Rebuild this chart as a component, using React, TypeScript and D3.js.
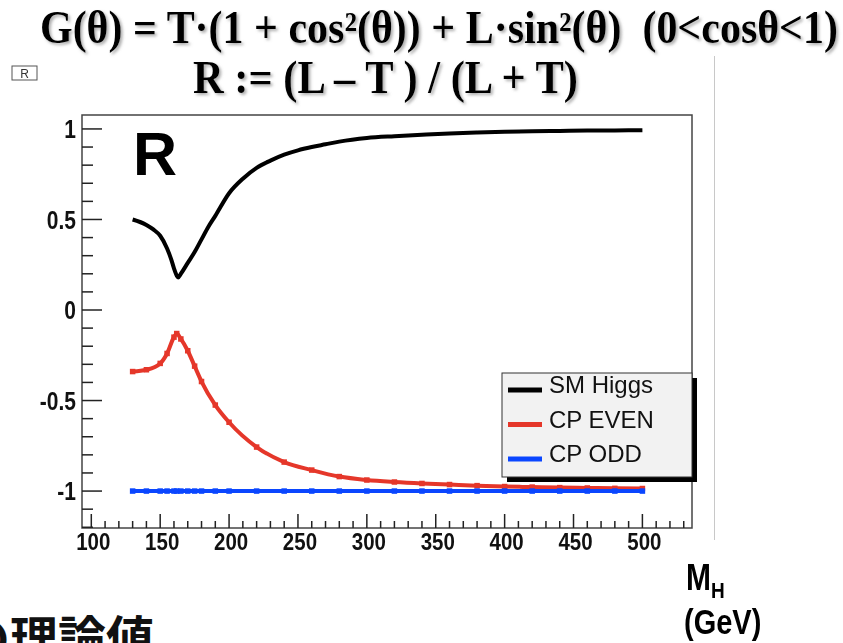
import * as d3 from 'd3';

// M_H values (GeV) for the marked graphs
const massPoints = [130, 140, 150, 155, 160, 162, 165, 170, 175, 180, 190, 200, 220, 240, 260, 280, 300, 320, 340, 360, 380, 400, 420, 440, 460, 480, 500];
const cpEven = [-0.34, -0.33, -0.295, -0.24, -0.15, -0.13, -0.16, -0.225, -0.31, -0.395, -0.525, -0.62, -0.757, -0.84, -0.884, -0.92, -0.939, -0.95, -0.958, -0.964, -0.97, -0.975, -0.978, -0.981, -0.983, -0.985, -0.986];
const cpOdd = [-1, -1, -1, -1, -1, -1, -1, -1, -1, -1, -1, -1, -1, -1, -1, -1, -1, -1, -1, -1, -1, -1, -1, -1, -1, -1, -1];

// SM Higgs curve (drawn as a smooth line, no markers)
const smMass = [130, 140, 145, 150, 155, 158, 160, 162, 163, 165, 170, 175, 180, 185, 190, 200, 210, 220, 230, 240, 250, 260, 270, 280, 300, 320, 340, 360, 380, 400, 420, 440, 460, 480, 500];
const smR = [0.5, 0.47, 0.445, 0.41, 0.34, 0.28, 0.23, 0.19, 0.18, 0.2, 0.26, 0.32, 0.39, 0.46, 0.52, 0.645, 0.725, 0.785, 0.825, 0.858, 0.882, 0.9, 0.915, 0.93, 0.95, 0.96, 0.968, 0.975, 0.98, 0.984, 0.987, 0.989, 0.991, 0.992, 0.993];

const xMajor = [100, 150, 200, 250, 300, 350, 400, 450, 500];
const yMajor = [-1, -0.5, 0, 0.5, 1];
const yLabels = ['-1', '-0.5', '0', '0.5', '1'];

const legendItems = [
  { label: 'SM Higgs', color: '#000000' },
  { label: 'CP EVEN', color: '#e5372a' },
  { label: 'CP ODD', color: '#0a46ff' },
];

const W = 843, H = 643;
const frame = { left: 82, right: 692, top: 115, bottom: 528 };
const STRETCH = 1.2; // the slide is stretched vertically

export default function App() {
  const x = d3.scaleLinear().domain([93.25, 536]).range([frame.left, frame.right]);
  const y = d3.scaleLinear().domain([-1.204, 1.077]).range([frame.bottom, frame.top]);

  const xMinor = d3.range(100, 531, 10).filter(v => v % 50 !== 0);
  const yMinor = d3.range(-12, 11, 1).map(v => v / 10).filter(v => Math.abs((v * 10) % 5) > 0.01);

  const line = d3.line<[number, number]>()
    .x(d => x(d[0]))
    .y(d => y(d[1]))
    .curve(d3.curveMonotoneX);

  const smPts = smMass.map((m, i) => [m, smR[i]] as [number, number]);
  const evenPts = massPoints.map((m, i) => [m, cpEven[i]] as [number, number]);
  const oddPts = massPoints.map((m, i) => [m, cpOdd[i]] as [number, number]);

  const sans = '"Liberation Sans", Arial, sans-serif';
  const serif = '"Liberation Serif", "Times New Roman", serif';

  return (
    <div style={{ position: 'absolute', left: 0, top: 0, width: W, height: H, background: '#fff' }}>
      <svg width={W} height={H} style={{ display: 'block' }}>
        <defs>
          <filter id="shadow" x="-5%" y="-20%" width="110%" height="140%">
            <feDropShadow dx="2" dy="2" stdDeviation="1.5" floodColor="#777" floodOpacity="0.6" />
          </filter>
        </defs>

        {/* title */}
        <g filter="url(#shadow)" fontFamily={serif} fontWeight="bold" fill="#000">
          <g transform={`translate(40,43) scale(1,1.08)`}>
            <text x={0} y={0} fontSize={42} textLength={798} lengthAdjust="spacingAndGlyphs" style={{ whiteSpace: 'pre' }}>
              {'G(θ) = T·(1 + cos²(θ)) + L·sin²(θ)  (0<cosθ<1)'}
            </text>
          </g>
          <g transform={`translate(193,93) scale(1,1.08)`}>
            <text x={0} y={0} fontSize={42} textLength={385} lengthAdjust="spacingAndGlyphs" style={{ whiteSpace: 'pre' }}>
              {'R := (L – T ) / (L + T)'}
            </text>
          </g>
        </g>

        {/* canvas label box */}
        <rect x={12} y={66} width={25} height={14} fill="#fff" stroke="#555" strokeWidth={1} />
        <text x={24.5} y={77.5} textAnchor="middle" fontFamily={sans} fontSize={12} fill="#333">R</text>

        {/* separator line */}
        <line x1={714.5} x2={714.5} y1={56} y2={540} stroke="#c8c8c8" strokeWidth={1} />

        {/* frame */}
        <rect x={frame.left} y={frame.top} width={frame.right - frame.left} height={frame.bottom - frame.top}
          fill="#fff" stroke="#444" strokeWidth={1.5} />

        {/* y ticks */}
        {yMajor.map(v => (
          <line key={'ym' + v} x1={frame.left} x2={frame.left + 20} y1={y(v)} y2={y(v)} stroke="#222" strokeWidth={1.5} />
        ))}
        {yMinor.map(v => (
          <line key={'yn' + v} x1={frame.left} x2={frame.left + 11} y1={y(v)} y2={y(v)} stroke="#222" strokeWidth={1.5} />
        ))}
        {yMajor.map((v, i) => (
          <g key={'yl' + v} transform={`translate(${frame.left - 6},${y(v)}) scale(1,${STRETCH})`}>
            <text x={0} y={0} dy="0.36em" textAnchor="end"
              fontFamily={sans} fontWeight="bold" fontSize={21} fill="#111">{yLabels[i]}</text>
          </g>
        ))}

        {/* x ticks */}
        {xMajor.map(v => (
          <line key={'xm' + v} x1={x(v)} x2={x(v)} y1={frame.bottom} y2={frame.bottom - 14} stroke="#222" strokeWidth={1.5} />
        ))}
        {xMinor.map(v => (
          <line key={'xn' + v} x1={x(v)} x2={x(v)} y1={frame.bottom} y2={frame.bottom - 7} stroke="#222" strokeWidth={1.5} />
        ))}
        {xMajor.map(v => (
          <g key={'xl' + v} transform={`translate(${x(v) + 2},550) scale(1,${STRETCH})`}>
            <text x={0} y={0} textAnchor="middle"
              fontFamily={sans} fontWeight="bold" fontSize={20.5} fill="#111">{v}</text>
          </g>
        ))}

        {/* big R */}
        <text x={133} y={175} fontFamily={sans} fontWeight="bold" fontSize={61} fill="#000">R</text>

        {/* curves */}
        <path d={line(smPts) ?? ''} fill="none" stroke="#000" strokeWidth={4} strokeLinejoin="round" />
        <path d={line(evenPts) ?? ''} fill="none" stroke={legendItems[1].color} strokeWidth={4} strokeLinejoin="round" />
        {evenPts.map(p => (
          <rect key={'e' + p[0]} x={x(p[0]) - 2.75} y={y(p[1]) - 2.75} width={5.5} height={5.5} fill={legendItems[1].color} />
        ))}
        <path d={line(oddPts) ?? ''} fill="none" stroke={legendItems[2].color} strokeWidth={4} />
        {oddPts.map(p => (
          <rect key={'o' + p[0]} x={x(p[0]) - 2.75} y={y(p[1]) - 2.75} width={5.5} height={5.5} fill={legendItems[2].color} />
        ))}

        {/* legend */}
        <rect x={507} y={378} width={190} height={104} fill="#000" />
        <rect x={502} y={373} width={190} height={104} fill="#f2f2f2" stroke="#333" strokeWidth={1} />
        {legendItems.map((it, i) => {
          const cy = [390, 424.5, 459][i];
          return (
            <g key={it.label}>
              <line x1={508} x2={542} y1={cy} y2={cy} stroke={it.color} strokeWidth={5} />
              <text x={549} y={cy + 3} fontFamily={sans} fontSize={24} fill="#111">{it.label}</text>
            </g>
          );
        })}

        {/* axis title */}
        <g transform={`translate(686,590) scale(1,${STRETCH})`}>
          <text x={0} y={0} fontFamily={sans} fontWeight="bold" fontSize={30} fill="#000">
            M<tspan fontSize={19} dy={7}>H</tspan>
          </text>
        </g>
        <g transform={`translate(684,634) scale(1,${STRETCH})`}>
          <text x={0} y={0} fontFamily={sans} fontWeight="bold" fontSize={29} fill="#000">(GeV)</text>
        </g>

        {/* bottom note (cut off by the page in the original slide) */}
        <text x={-38} y={656} fontFamily={'"Noto Sans CJK JP", sans-serif'} fontWeight="bold" fontSize={48} fill="#111">
          の理論値
        </text>
      </svg>
    </div>
  );
}
